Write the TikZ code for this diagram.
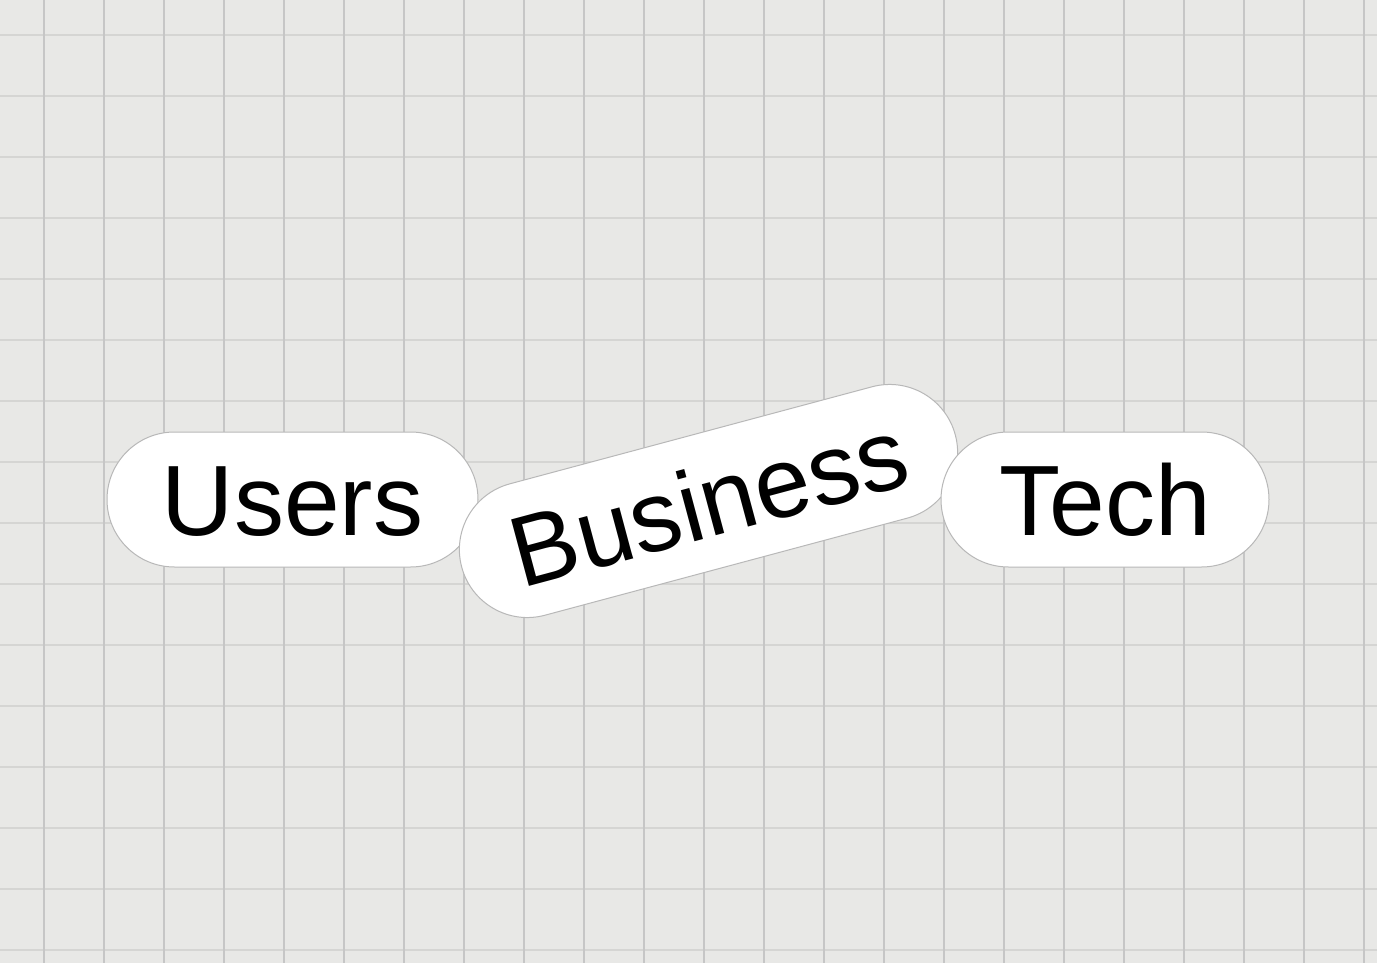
\documentclass[tikz,border=0pt]{standalone}
\usepackage{fontspec}
\setmainfont{Liberation Sans}
\usetikzlibrary{shapes.misc}
\definecolor{bg}{HTML}{E8E8E6}
\definecolor{vgrid}{HTML}{C6C6C6}
\definecolor{hgrid}{HTML}{D5D5D3}
\definecolor{pilledge}{HTML}{B8B8B8}
\tikzset{
  pill/.style={rounded rectangle, draw=pilledge, line width=1pt, fill=white,
    inner sep=0pt, minimum height=135pt, text height=72pt, text depth=0pt,
    font=\fontsize{100}{120}\selectfont, text=black},
  vline/.style={draw=vgrid, line width=1.4pt},
  hline/.style={draw=hgrid, line width=2pt}
}
\begin{document}
\begin{tikzpicture}[x=1pt,y=-1pt]
\fill[bg] (0,0) rectangle (1377,963);
\useasboundingbox (0,0) rectangle (1377,963);
\foreach \k in {0,...,15} { \draw[hline] (0,{35+61*\k}) -- (1377,{35+61*\k}); }
\foreach \k in {0,...,22} { \draw[vline] ({44+60*\k},0) -- ({44+60*\k},963); }
\node[pill, minimum width=371pt] (users) at (292.5,499.5) {Users};
\node[pill, minimum width=511pt, minimum height=136pt, rotate=15] (business) at (708.5,501) {Business};
\node[pill, minimum width=328pt] (tech) at (1105,499.5) {Tech};
\end{tikzpicture}
\end{document}
